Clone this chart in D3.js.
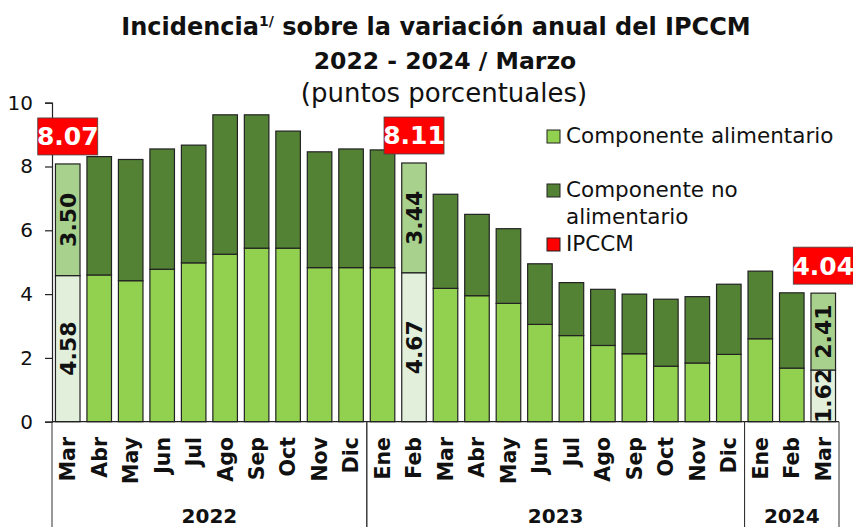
<!DOCTYPE html>
<html>
<head>
<meta charset="utf-8">
<script src="https://cdn.jsdelivr.net/npm/d3@7"></script>
<style>
  body { margin: 0; background: #fff; }
  text { font-family: "DejaVu Sans", sans-serif; fill: #111; }
</style>
</head>
<body>
<div id="chart-area"></div>
<script>
var width = 853, height = 527;

// Data
var months = ["Mar","Abr","May","Jun","Jul","Ago","Sep","Oct","Nov","Dic",
    "Ene","Feb","Mar","Abr","May","Jun","Jul","Ago","Sep","Oct","Nov","Dic",
    "Ene","Feb","Mar"];
var years = ["2022","2022","2022","2022","2022","2022","2022","2022","2022","2022",
    "2023","2023","2023","2023","2023","2023","2023","2023","2023","2023","2023","2023",
    "2024","2024","2024"];
var food = [4.58,4.60,4.42,4.78,4.98,5.25,5.44,5.44,4.83,4.83,
    4.83,4.67,4.18,3.95,3.71,3.05,2.70,2.39,2.13,1.74,1.84,2.11,
    2.60,1.68,1.62];
var nonFood = [3.50,3.71,3.80,3.77,3.69,4.37,4.18,3.67,3.63,3.72,
    3.69,3.44,2.95,2.55,2.34,1.90,1.66,1.76,1.87,2.10,2.08,2.20,
    2.12,2.36,2.41];
var highlightKeys = ["2022-Mar","2023-Feb","2024-Mar"];
var ipccm = [8.07, 8.11, 4.04];
var yearGroups = ["2022","2023","2024"];
var yTicks = [0,2,4,6,8,10];

var data = months.map(function(m, i){
    return { key: years[i] + "-" + m, month: m, year: years[i],
        food: food[i], nonFood: nonFood[i] };
});

var svg = d3.select("#chart-area").append("svg")
    .attr("width", width)
    .attr("height", height);

// Scales
var x = d3.scaleBand()
    .domain(data.map(function(d){ return d.key; }))
    .range([52, 839])
    .paddingInner(0.22)
    .paddingOuter(0.11);
var y = d3.scaleLinear().domain([0, 10]).range([421.7, 102.7]);

// Title
var title = svg.append("text")
    .attr("x", 436).attr("y", 35)
    .attr("text-anchor", "middle")
    .attr("font-size", "24px").attr("font-weight", "bold");
title.append("tspan").text("Incidencia");
title.append("tspan").attr("font-size", "14px").attr("dy", -9).text("1/");
title.append("tspan").attr("dy", 9).text(" sobre la variación anual del IPCCM");

svg.append("text")
    .attr("x", 445).attr("y", 69)
    .attr("text-anchor", "middle")
    .attr("font-size", "23.5px").attr("font-weight", "bold")
    .text("2022 - 2024 / Marzo");

svg.append("text")
    .attr("x", 444).attr("y", 102)
    .attr("text-anchor", "middle")
    .attr("font-size", "26px")
    .text("(puntos porcentuales)");

// Y axis
var yAxis = svg.append("g")
    .attr("transform", "translate(52,0)")
    .call(d3.axisLeft(y).tickValues(yTicks).tickSize(7).tickPadding(12));
yAxis.select(".domain").attr("stroke", "#222").attr("stroke-width", 1.2);
yAxis.selectAll(".tick line").attr("stroke", "#222").attr("stroke-width", 1.2);
yAxis.selectAll(".tick text")
    .attr("font-family", "DejaVu Sans")
    .attr("font-size", "20px")
    .attr("fill", "#111");

// Bars
var isHighlight = function(d){ return highlightKeys.indexOf(d.key) >= 0; };

var bars = svg.append("g").selectAll("g")
    .data(data).enter().append("g");

bars.append("rect")
    .attr("x", function(d){ return x(d.key); })
    .attr("width", x.bandwidth())
    .attr("y", function(d){ return y(d.food); })
    .attr("height", function(d){ return y(0) - y(d.food); })
    .attr("fill", function(d){ return isHighlight(d) ? "#e2efda" : "#92d050"; })
    .attr("stroke", "#222").attr("stroke-width", 1.2);

bars.append("rect")
    .attr("x", function(d){ return x(d.key); })
    .attr("width", x.bandwidth())
    .attr("y", function(d){ return y(d.food + d.nonFood); })
    .attr("height", function(d){ return y(d.food) - y(d.food + d.nonFood); })
    .attr("fill", function(d){ return isHighlight(d) ? "#a9d18e" : "#548235"; })
    .attr("stroke", "#222").attr("stroke-width", 1.2);

// Value labels inside highlighted bars
var hl = data.filter(isHighlight);
hl.forEach(function(d){
    var cx = x(d.key) + x.bandwidth() / 2;
    [[d.food, 0], [d.nonFood, d.food]].forEach(function(seg){
        var cy = (y(seg[1]) + y(seg[1] + seg[0])) / 2;
        svg.append("text")
            .attr("transform", "translate(" + cx + "," + cy + ") rotate(-90)")
            .attr("text-anchor", "middle")
            .attr("dy", "0.36em")
            .attr("font-size", "22px").attr("font-weight", "bold")
            .text(d3.format(".2f")(seg[0]));
    });
});

// IPCCM red boxes
highlightKeys.forEach(function(k, i){
    var d = data.find(function(e){ return e.key === k; });
    var cx = x(k) + x.bandwidth() / 2;
    var bottom = y(d.food + d.nonFood) - 9;
    svg.append("rect")
        .attr("x", cx - 30).attr("y", bottom - 37)
        .attr("width", 60).attr("height", 37)
        .attr("fill", "#ff0000")
        .attr("stroke", "#444").attr("stroke-width", 0.8);
    svg.append("text")
        .attr("x", cx).attr("y", bottom - 18.5)
        .attr("dy", "0.36em")
        .attr("text-anchor", "middle")
        .attr("font-size", "25px").attr("font-weight", "bold")
        .style("fill", "#fff")
        .text(d3.format(".2f")(ipccm[i]));
});

// X axis line
svg.append("line")
    .attr("x1", 52).attr("x2", 839)
    .attr("y1", y(0)).attr("y2", y(0))
    .attr("stroke", "#222").attr("stroke-width", 1.2);

// Month labels
svg.append("g").selectAll("text")
    .data(data).enter().append("text")
    .attr("transform", function(d){
        return "translate(" + (x(d.key) + x.bandwidth() / 2) + ",437) rotate(-90)";
    })
    .attr("text-anchor", "end")
    .attr("dy", "0.36em")
    .attr("font-size", "20.5px").attr("font-weight", "bold")
    .text(function(d){ return d.month; });

// Year group separators and labels
yearGroups.forEach(function(yr){
    var keys = data.filter(function(d){ return d.year === yr; });
    var x0 = x(keys[0].key) - x.step() * x.paddingInner() / 2;
    var x1 = x(keys[keys.length - 1].key) + x.bandwidth() + x.step() * x.paddingInner() / 2;
    if (yr === yearGroups[0]) x0 = 52;
    if (yr === yearGroups[yearGroups.length - 1]) x1 = 839;
    [x0, x1].forEach(function(px){
        svg.append("line")
            .attr("x1", px).attr("x2", px)
            .attr("y1", y(0)).attr("y2", height)
            .attr("stroke", "#333").attr("stroke-width", 1);
    });
    svg.append("text")
        .attr("x", (x0 + x1) / 2).attr("y", 523)
        .attr("text-anchor", "middle")
        .attr("font-size", "20px").attr("font-weight", "bold")
        .text(yr);
});

// Legend
var legendItems = [
    { fill: "#92d050", y: 130, lines: ["Componente alimentario"] },
    { fill: "#548235", y: 184, lines: ["Componente no", "alimentario"] },
    { fill: "#ff0000", y: 238, lines: ["IPCCM"] }
];
legendItems.forEach(function(item){
    svg.append("rect")
        .attr("x", 547).attr("y", item.y)
        .attr("width", 13).attr("height", 13)
        .attr("fill", item.fill)
        .attr("stroke", "#222").attr("stroke-width", 1);
    item.lines.forEach(function(line, j){
        svg.append("text")
            .attr("x", 566).attr("y", item.y + 13 + j * 27)
            .attr("font-size", "21.5px")
            .text(line);
    });
});
</script>
</body>
</html>
